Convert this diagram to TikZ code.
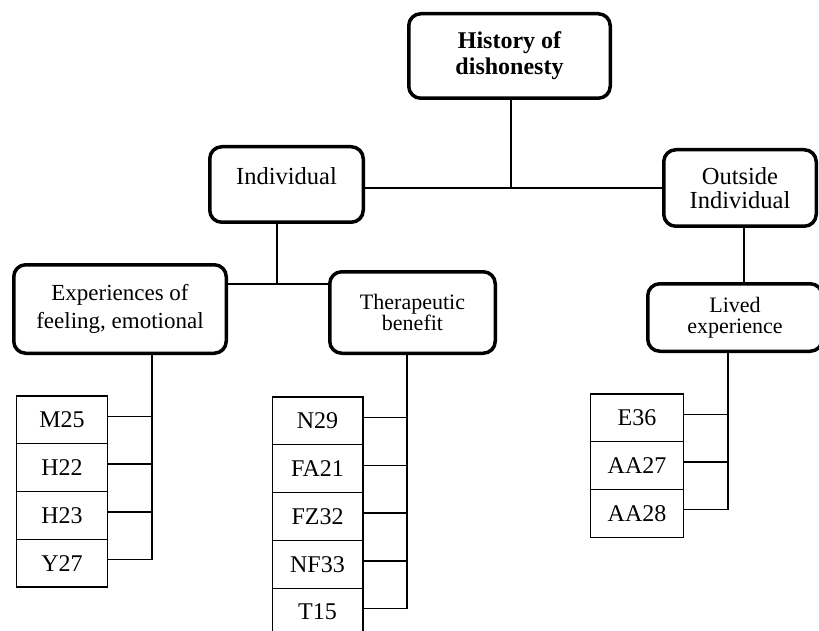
\documentclass[tikz,border=0pt]{standalone}
\usepackage{fontspec}
\setmainfont{Liberation Serif}
\newcommand\mytightlines{\lineskiplimit=-50pt\relax}
\begin{document}
\begin{tikzpicture}[x=1pt,y=-1pt,
  mainbox/.style={draw, line width=3.5pt, rounded corners=12pt, align=center, inner sep=0pt},
  leaf/.style={draw, line width=1.2pt, minimum width=90.8pt, minimum height=47.75pt, inner sep=0pt, outer sep=0pt, font=\fontsize{24}{26}\selectfont},
  conn/.style={line width=1.4pt}]
\useasboundingbox (0,0) rectangle (819,631);
\clip (0,0) rectangle (819,631);
\fill[white] (0,0) rectangle (819,631);

% main boxes
\node[mainbox, minimum width=201.5pt, minimum height=84.5pt, font=\bfseries\fontsize{24}{26}\selectfont] (hist) at (509.5,56) {History of\\dishonesty};
\node[mainbox, minimum width=153.5pt, minimum height=75.5pt, font=\fontsize{24.5}{26}\selectfont, text height=17pt, text depth=16pt] (ind) at (286.5,184.5) {Individual};
\node[mainbox, minimum width=152.5pt, minimum height=76.5pt, font=\fontsize{24.5}{23.5}\selectfont] (out) at (740,188) {Outside\\Individual};
\node[mainbox, minimum width=212.5pt, minimum height=88.5pt, font=\fontsize{23}{28}\selectfont] (exp) at (120,309) {Experiences of\\feeling, emotional};
\node[mainbox, minimum width=165.5pt, minimum height=81.5pt, font={\fontsize{22}{21.5}\selectfont\mytightlines}] (ther) at (412.5,312.5) {Therapeutic\\benefit};
\node[mainbox, minimum width=174.5pt, minimum height=67.5pt, font={\fontsize{22}{21}\selectfont\mytightlines}] (lived) at (735,317.5) {Lived\\experience};

% leaf boxes
\node[leaf] (m25) at (62,419.9) {M25};
\node[leaf] (h22) at (62,467.6) {H22};
\node[leaf] (h23) at (62,515.4) {H23};
\node[leaf] (y27) at (62,563.1) {Y27};

\node[leaf] (n29) at (317.5,420.9) {N29};
\node[leaf] (fa21) at (317.5,468.7) {FA21};
\node[leaf] (fz32) at (317.5,516.5) {FZ32};
\node[leaf] (nf33) at (317.5,564.3) {NF33};
\node[leaf] (t15) at (317.5,612.1) {T15};

\node[leaf, minimum width=92.8pt] (e36) at (637,417.85) {E36};
\node[leaf, minimum width=92.8pt] (aa27) at (637,465.55) {AA27};
\node[leaf, minimum width=92.8pt] (aa28) at (637,513.25) {AA28};

% junction coordinates
\coordinate (hub) at (511,188);
\coordinate (hub2) at (277,284);
\coordinate (c3) at (744,283);
\coordinate (t1) at (152,354);
\coordinate (t2) at (407,354);
\coordinate (t3) at (728,352);

% connectors
\draw[conn] (hist.south -| hub) -- (hub);
\draw[conn] (ind.east |- hub) -- (out.west |- hub);
\draw[conn] (ind.south -| hub2) -- (hub2);
\draw[conn] (exp.east |- hub2) -- (ther.west |- hub2);
\draw[conn] (out.south -| c3) -- (lived.north -| c3);
\foreach \n in {m25,h22,h23,y27} \draw[conn] ([yshift=3.5pt]\n.east) -| (t1);
\foreach \n in {n29,fa21,fz32,nf33,t15} \draw[conn] ([yshift=3.5pt]\n.east) -| (t2);
\foreach \n in {e36,aa27,aa28} \draw[conn] ([yshift=3.5pt]\n.east) -| (t3);
\end{tikzpicture}
\end{document}
